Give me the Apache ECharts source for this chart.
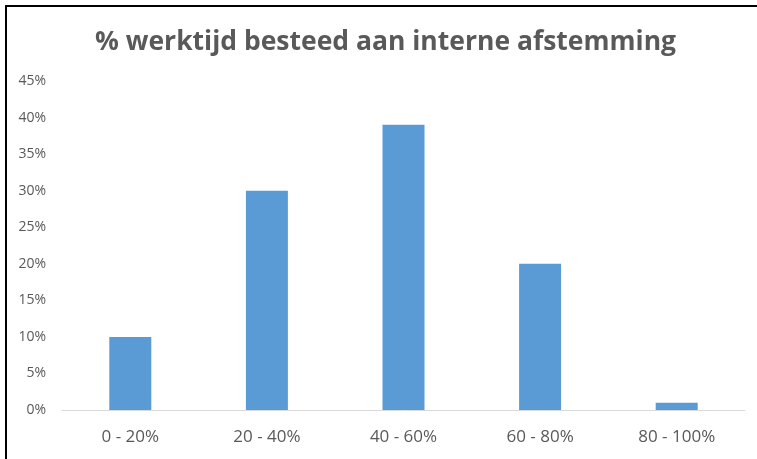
<!DOCTYPE html>
<html style="height: 100%">
<head>
<meta charset="utf-8">
<style type="text/css">
    body, html { width: 100%; height: 100%; margin: 0; overflow: hidden; background: #fff; }
    #frame { position: absolute; left: 5px; top: 5px; right: 0; bottom: 0; border-left: 2px solid #000; border-top: 2px solid #000; }
    #display { position: absolute; left: 0; top: 0; width: 757px; height: 459px; }
</style>
</head>
<body>
<div id="frame"></div>
<div id="display"></div>
<script type="text/javascript" src="https://cdn.jsdelivr.net/npm/echarts@6/dist/echarts.min.js"></script>
<script type="text/javascript">
var categories = ['0 - 20%', '20 - 40%', '40 - 60%', '60 - 80%', '80 - 100%'];
var values = [10, 30, 39, 20, 1];
var yTicks = [0, 5, 10, 15, 20, 25, 30, 35, 40, 45];

var textColor = '#595959';
var chart = echarts.init(document.getElementById('display'));

var option = {
    backgroundColor: 'transparent',
    animation: false,
    title: {
        text: '% werktijd besteed aan interne afstemming',
        left: 90,
        top: 24,
        textStyle: {
            color: textColor,
            fontFamily: 'Open Sans',
            fontWeight: 'bold',
            fontSize: 26.5
        }
    },
    grid: {
        left: 62,
        right: 12,
        top: 81,
        bottom: 49
    },
    xAxis: {
        type: 'category',
        data: categories,
        axisLine: { show: true, lineStyle: { color: '#d9d9d9', width: 1 } },
        axisTick: { show: false },
        axisLabel: {
            color: textColor,
            fontFamily: 'Open Sans',
            fontSize: 17,
            margin: 19
        }
    },
    yAxis: {
        type: 'value',
        min: yTicks[0],
        max: yTicks[yTicks.length - 1],
        interval: 5,
        axisLine: { show: false },
        axisTick: { show: false },
        splitLine: { show: false },
        axisLabel: {
            color: textColor,
            fontFamily: 'Open Sans',
            fontSize: 14,
            margin: 16,
            formatter: '{value}%'
        }
    },
    series: [{
        type: 'bar',
        data: values,
        barWidth: 42,
        itemStyle: { color: '#5b9bd5' }
    }]
};
chart.setOption(option);
</script>
</body>
</html>
